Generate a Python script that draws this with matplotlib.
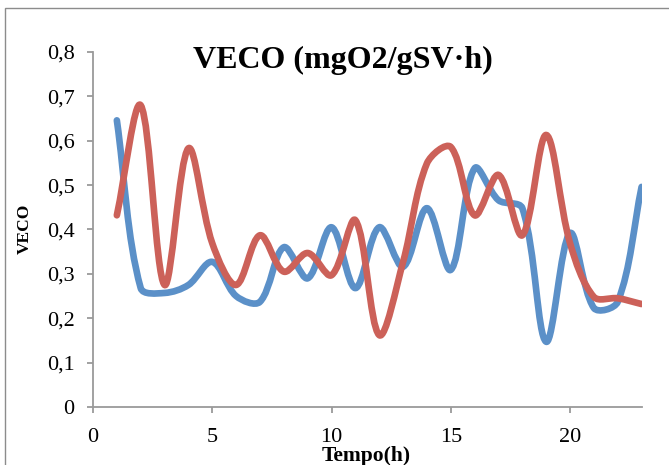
import matplotlib

matplotlib.use("Agg")
import matplotlib.pyplot as plt  # noqa: E402
import numpy as np  # noqa: E402
from matplotlib.patches import PathPatch, Rectangle  # noqa: E402
from matplotlib.path import Path  # noqa: E402
from matplotlib.ticker import FuncFormatter  # noqa: E402

# --- data ----------------------------------------------------------------
hours = list(range(1, 24))
veco_blue = [0.646, 0.268, 0.257, 0.275, 0.327, 0.250, 0.237, 0.360, 0.290, 0.405,
             0.268, 0.405, 0.316, 0.448, 0.309, 0.538, 0.466, 0.448, 0.147, 0.392,
             0.223, 0.237, 0.496]
veco_red = [0.432, 0.680, 0.275, 0.583, 0.369, 0.275, 0.387, 0.305, 0.347, 0.297,
            0.421, 0.162, 0.327, 0.549, 0.586, 0.432, 0.523, 0.387, 0.613, 0.369,
            0.248, 0.245, 0.232]

BLUE = "#5b90c8"
RED = "#cc6159"
AXIS_GREY = "#9a9a9a"
SERIF = ["Liberation Serif", "DejaVu Serif"]


def smooth_path(ax, x, y):
    """Excel-style smoothed line: cubic Beziers whose control arms are
    scaled by neighbouring segment lengths (measured on screen)."""
    data = np.column_stack([x, y]).astype(float)
    p = ax.transData.transform(data)
    n = len(p)
    verts = [p[0]]
    codes = [Path.MOVETO]
    for i in range(n - 1):
        p0 = p[i - 1] if i > 0 else p[i]
        p1, p2 = p[i], p[i + 1]
        p3 = p[i + 2] if i + 2 < n else p[i + 1]
        d01 = np.hypot(*(p1 - p0))
        d12 = np.hypot(*(p2 - p1))
        d23 = np.hypot(*(p3 - p2))
        f1 = d12 / (d01 + d12) / 3.0 if d01 + d12 > 0 else 0.0
        f2 = d12 / (d12 + d23) / 3.0 if d12 + d23 > 0 else 0.0
        c1 = p1 + (p2 - p0) * f1
        c2 = p2 - (p3 - p1) * f2
        verts += [c1, c2, p2]
        codes += [Path.CURVE4] * 3
    verts = ax.transData.inverted().transform(np.array(verts))
    return Path(verts, codes)


fig = plt.figure(figsize=(6.69, 4.65), dpi=100)
# chart-area border (cropped on the right/bottom in the reference)
fig.patches.append(Rectangle((5 / 669, -0.05), 1.2, 1 - 8 / 465 + 0.05,
                             transform=fig.transFigure, fill=False,
                             edgecolor="#8c8c8c", linewidth=1.0))

ax = fig.add_axes([93 / 669, 1 - 407 / 465, (641.6 - 93) / 669, (407 - 52) / 465])
ax.set_xlim(0, 23)
ax.set_ylim(0, 0.8)

for ys, col in [(veco_blue, BLUE), (veco_red, RED)]:
    ax.add_patch(PathPatch(smooth_path(ax, hours, ys), facecolor="none", edgecolor=col,
                           linewidth=4.8, capstyle="round", joinstyle="round"))

ax.set_xticks([0, 5, 10, 15, 20])
ax.set_yticks(np.arange(0, 0.81, 0.1))
ax.yaxis.set_major_formatter(FuncFormatter(lambda v, _: "0" if abs(v) < 1e-9 else f"{v:.1f}".replace(".", ",")))

for side in ("top", "right"):
    ax.spines[side].set_visible(False)
for side in ("left", "bottom"):
    ax.spines[side].set_color(AXIS_GREY)
    ax.spines[side].set_linewidth(1.3)
ax.tick_params(direction="out", length=4.3, width=1.3, color=AXIS_GREY, labelsize=16)
ax.tick_params(axis="y", pad=9)
ax.tick_params(axis="x", pad=11)
for lab in ax.get_xticklabels() + ax.get_yticklabels():
    lab.set_family(SERIF)

fig.text(343 / 669, 1 - 60 / 465, "VECO (mgO2/gSV·h)", ha="center", va="center",
         fontsize=23, fontweight="bold", family=SERIF)
fig.text(366 / 669, 1 - 456 / 465, "Tempo(h)", ha="center", va="center",
         fontsize=15.5, fontweight="bold", family=SERIF)
fig.text(25 / 669, 1 - 229 / 465, "VECO", ha="center", va="center", rotation=90,
         fontsize=12.5, fontweight="bold", family=SERIF)

fig.savefig("out.png", dpi=100)
